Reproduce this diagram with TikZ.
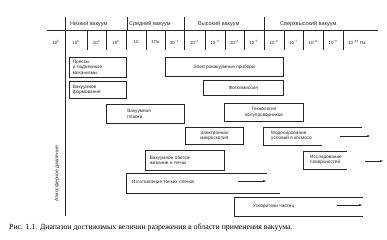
\documentclass[tikz,border=0pt]{standalone}
\usepackage{fontspec}
\setmainfont{Liberation Serif}
\newfontfamily\boxfont{Liberation Sans}
\usetikzlibrary{arrows.meta}
\begin{document}
\begin{tikzpicture}[x=1pt,y=-1pt,
  ln/.style={line width=0.7pt, draw=black!85},
  tk/.style={line width=0.55pt, draw=black!85},
  boxn/.style={ln, rectangle, inner sep=0pt, anchor=north west,
    font=\boxfont\fontsize{4.7}{5.6}\selectfont, text=black!85},
  lbl/.style={inner sep=0pt, font=\boxfont\fontsize{4.7}{5.6}\selectfont, text=black!85},
  val/.style={inner sep=0pt, font=\boxfont\fontsize{4.4}{5}\selectfont, text=black!85},
  hdr/.style={inner sep=0pt, anchor=west, font=\boxfont\fontsize{5.5}{6}\selectfont, text=black!85},
  arr/.style={line width=0.55pt, draw=black!85, -{Stealth[length=3pt,width=2pt]}}]
\useasboundingbox (0,0) rectangle (387,240);
% axis and header
\coordinate (axT) at (65,17);
\coordinate (axB) at (65,216);
\draw[ln] (axT) -- (axB);
\coordinate (hl) at (47,30);
\coordinate (hr) at (378,30);
\draw[ln] (hl) -- (hr);
\foreach \x in {127,184,264} \draw[tk] (\x,17) -- (\x,30);
\foreach \x in {87,106,126,146,165,184,205,225,244,264,284,303,323,343} \draw[tk] (\x,30) -- (\x,50);
\node[hdr] (h1) at (70,24) {Низкий вакуум};
\node[hdr] (h2) at (129,24) {Средний вакуум};
\node[hdr] (h3) at (198,24) {Высокий вакуум};
\node[hdr] (h4) at (280,24) {Сверхвысокий вакуум};
% values
\node[val] (v0) at (56,42) {10\textsuperscript{5}};
\node[val] (v1) at (76,42) {10\textsuperscript{4}};
\node[val] (v2) at (96.5,42) {10\textsuperscript{3}};
\node[val] (v3) at (116,42) {10\textsuperscript{2}};
\node[val] (v4) at (136,42) {10};
\node[val] (v5) at (155.5,42) {1Па};
\node[val] (v6) at (174.5,42) {10\textsuperscript{−1}};
\node[val] (v7) at (194.5,42) {10\textsuperscript{−2}};
\node[val] (v8) at (215,42) {10\textsuperscript{−3}};
\node[val] (v9) at (234.5,42) {10\textsuperscript{−4}};
\node[val] (v10) at (254,42) {10\textsuperscript{−5}};
\node[val] (v11) at (274,42) {10\textsuperscript{−6}};
\node[val] (v12) at (293.5,42) {10\textsuperscript{−7}};
\node[val] (v13) at (313,42) {10\textsuperscript{−8}};
\node[val] (v14) at (333,42) {10\textsuperscript{−9}};
\node[val, anchor=west] (v15) at (348,42) {10\textsuperscript{−10} Па};
% side label
\node[lbl, rotate=90, font=\boxfont\fontsize{5}{6}\selectfont] (atm) at (57,174) {Атмосферное давление};
% closed boxes
\node[boxn, minimum width=57pt, minimum height=20pt, text width=50pt, inner xsep=3.5pt, align=left] (presses) at (69,57) {Прессы\\и подъемные\\механизмы};
\node[boxn, minimum width=118pt, minimum height=19pt, align=center] (elvac) at (165,57) {Электровакуумные приборы};
\node[boxn, minimum width=57pt, minimum height=17pt, text width=50pt, inner xsep=3.5pt, align=left] (form) at (69,81) {Вакуумное\\формование};
\node[boxn, minimum width=80pt, minimum height=15pt, align=center] (photo) at (203,80) {Фотоэмиссия};
\node[boxn, minimum width=78pt, minimum height=19pt, text width=36pt, inner xsep=21pt, align=left] (melt) at (106,104) {Вакуумная\\плавка};
\node[boxn, minimum width=79pt, minimum height=18pt, align=center] (semi) at (224,103) {Технология\\полупроводников};
\node[boxn, minimum width=58pt, minimum height=17pt, align=center] (micro) at (185,127) {Электронная\\микроскопия};
\node[boxn, minimum width=79pt, minimum height=20pt, text width=70pt, inner xsep=4.5pt, align=left] (outgas) at (145,150) {Вакуумное обезга-\\живание в печах};
% open-ended boxes
\draw[ln] (362,127) -- (263,127) -- (263,145) -- (322,145);
\node[lbl, anchor=west, align=left] (model) at (271,136) {Моделирование\\условий в космосе};
\coordinate (ma1) at (340,136); \coordinate (ma2) at (370,136);
\draw[arr] (ma1) -- (ma2);
\draw[ln] (347,151) -- (303,151) -- (303,169) -- (347,169);
\node[lbl, anchor=west, align=left] (surf) at (310,160) {Исследование\\поверхностей};
\coordinate (sa1) at (365,161); \coordinate (sa2) at (383,161);
\draw[arr] (sa1) -- (sa2);
\draw[ln] (267,173) -- (126,173) -- (126,193) -- (280,193);
\node[lbl, anchor=west] (films) at (132,182) {Изготовление тонких пленок};
\coordinate (fa1) at (238,181); \coordinate (fa2) at (266,181);
\draw[arr] (fa1) -- (fa2);
\draw[ln] (363,197) -- (234,197) -- (234,216) -- (363,216);
\node[lbl, anchor=west] (acc) at (253,206) {Ускорители частиц};
\coordinate (aa1) at (337,205); \coordinate (aa2) at (362,205);
\draw[arr] (aa1) -- (aa2);
% caption
\node[inner sep=0pt, anchor=west, font=\fontsize{7.8}{8.4}\selectfont] (cap) at (9,228) {Рис. 1.1. Диапазон достижимых величин разрежения в области применения вакуума.};
\end{tikzpicture}
\end{document}
